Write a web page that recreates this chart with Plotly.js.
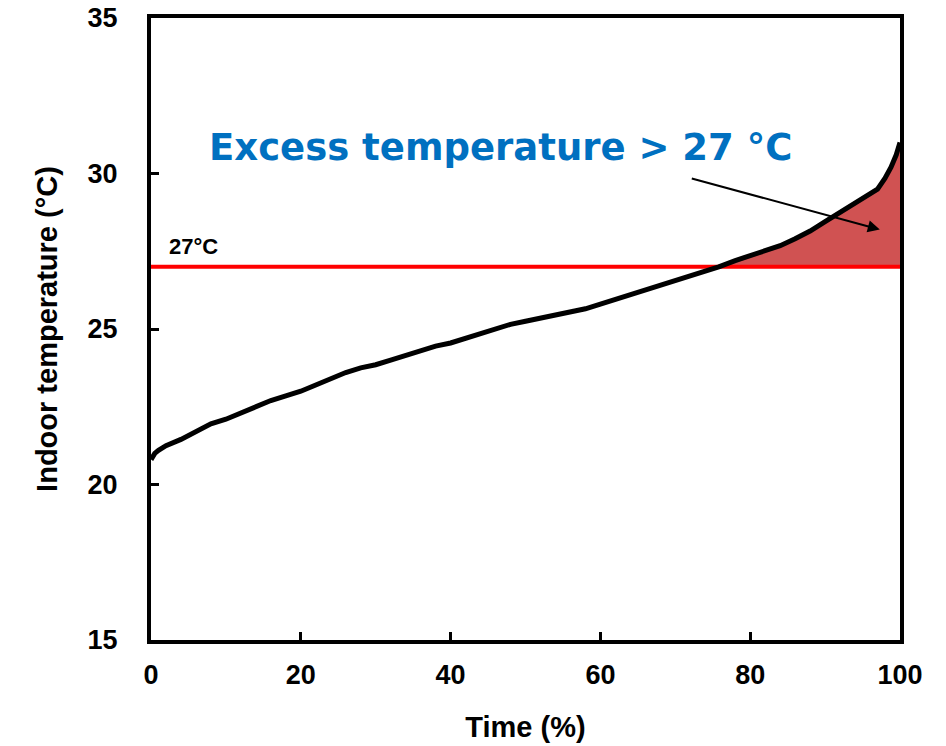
<!DOCTYPE html>
<html><head><meta charset="utf-8">
<script src="https://cdn.plot.ly/plotly-3.0.1.min.js"></script>
<style>html,body{margin:0;padding:0;background:#fff}</style>
</head><body><div id="chart" style="width:946px;height:746px"></div>
<script>
// Time (%) vs sorted indoor temperature (°C)
const timePct = [0, 0.5, 1, 2, 4, 6, 8, 10, 12, 14, 16, 18, 20, 22, 24, 26, 28, 30, 32, 34, 36, 38, 40, 42, 44, 46, 48, 50, 52, 54, 56, 58, 60, 62, 64, 66, 68, 70, 72, 74, 75.8, 78, 80, 82, 84, 86, 88, 90, 92, 94, 96, 97, 98, 98.8, 99.5, 100];
const indoorTemp = [20.8, 21.0, 21.1, 21.25, 21.45, 21.7, 21.95, 22.1, 22.3, 22.5, 22.7, 22.85, 23.0, 23.2, 23.4, 23.6, 23.75, 23.85, 24.0, 24.15, 24.3, 24.45, 24.55, 24.7, 24.85, 25.0, 25.15, 25.25, 25.35, 25.45, 25.55, 25.65, 25.8, 25.95, 26.1, 26.25, 26.4, 26.55, 26.7, 26.88, 27.0, 27.2, 27.35, 27.5, 27.68, 27.9, 28.15, 28.45, 28.75, 29.05, 29.35, 29.5, 29.85, 30.2, 30.6, 31.0];
const threshold = 27;
const xTicks = [0, 20, 40, 60, 80, 100];
const yTicks = [15, 20, 25, 30, 35];

const exX = [], exY = [], baseY = [];
timePct.forEach((t, i) => {
  if (indoorTemp[i] >= threshold) { exX.push(t); exY.push(indoorTemp[i]); baseY.push(threshold); }
});

const traces = [
  {x: exX, y: baseY, mode: 'lines', line: {width: 0}, hoverinfo: 'skip', showlegend: false},
  {x: exX, y: exY, mode: 'lines', fill: 'tonexty', fillcolor: 'rgb(208,82,82)', line: {width: 0}, showlegend: false},
  {x: [0, 100], y: [threshold, threshold], mode: 'lines', line: {color: '#ff0000', width: 4}, showlegend: false},
  {x: timePct, y: indoorTemp, mode: 'lines', line: {color: '#000', width: 5}, showlegend: false}
];

const FONT = 'Liberation Sans, Arial, sans-serif';
const axisCommon = {
  showgrid: false, zeroline: false, showline: true, linecolor: '#000', linewidth: 4,
  mirror: true, ticks: 'inside', ticklen: 8, tickwidth: 3, tickcolor: '#000',
  tickfont: {family: FONT, size: 27, color: '#000', weight: 'bold'}
};

const layout = {
  width: 946, height: 746,
  margin: {l: 151, r: 46, t: 18, b: 106},
  paper_bgcolor: '#fff', plot_bgcolor: '#fff',
  xaxis: Object.assign({}, axisCommon, {
    range: [0, 100], tickvals: xTicks, ticklabelstandoff: 8,
    title: {text: '<b>Time (%)</b>', standoff: 28, font: {family: FONT, size: 29, color: '#000'}}
  }),
  yaxis: Object.assign({}, axisCommon, {
    range: [15, 35], tickvals: yTicks, ticklabelstandoff: 24,
    title: {text: '<b>Indoor temperature (°C)</b>', standoff: 22, font: {family: FONT, size: 29, color: '#000'}}
  }),
  annotations: [
    {x: 7.5, y: 30.85, xref: 'x', yref: 'y', xanchor: 'left', yanchor: 'middle', showarrow: false,
     text: '<b>Excess temperature &gt; 27 °C</b>', font: {family: 'DejaVu Sans, Verdana, sans-serif', size: 37, color: '#0070c0'}},
    {x: 2.2, y: 27.65, xref: 'x', yref: 'y', xanchor: 'left', yanchor: 'middle', showarrow: false,
     text: '<b>27°C</b>', font: {family: FONT, size: 22, color: '#000'}},
    {x: 97.3, y: 28.2, ax: 72.0, ay: 29.85, xref: 'x', yref: 'y', axref: 'x', ayref: 'y',
     showarrow: true, arrowhead: 2, arrowsize: 1.2, arrowwidth: 2, arrowcolor: '#000', text: ''}
  ]
};
Plotly.newPlot('chart', traces, layout, {displayModeBar: false});
</script></body></html>
